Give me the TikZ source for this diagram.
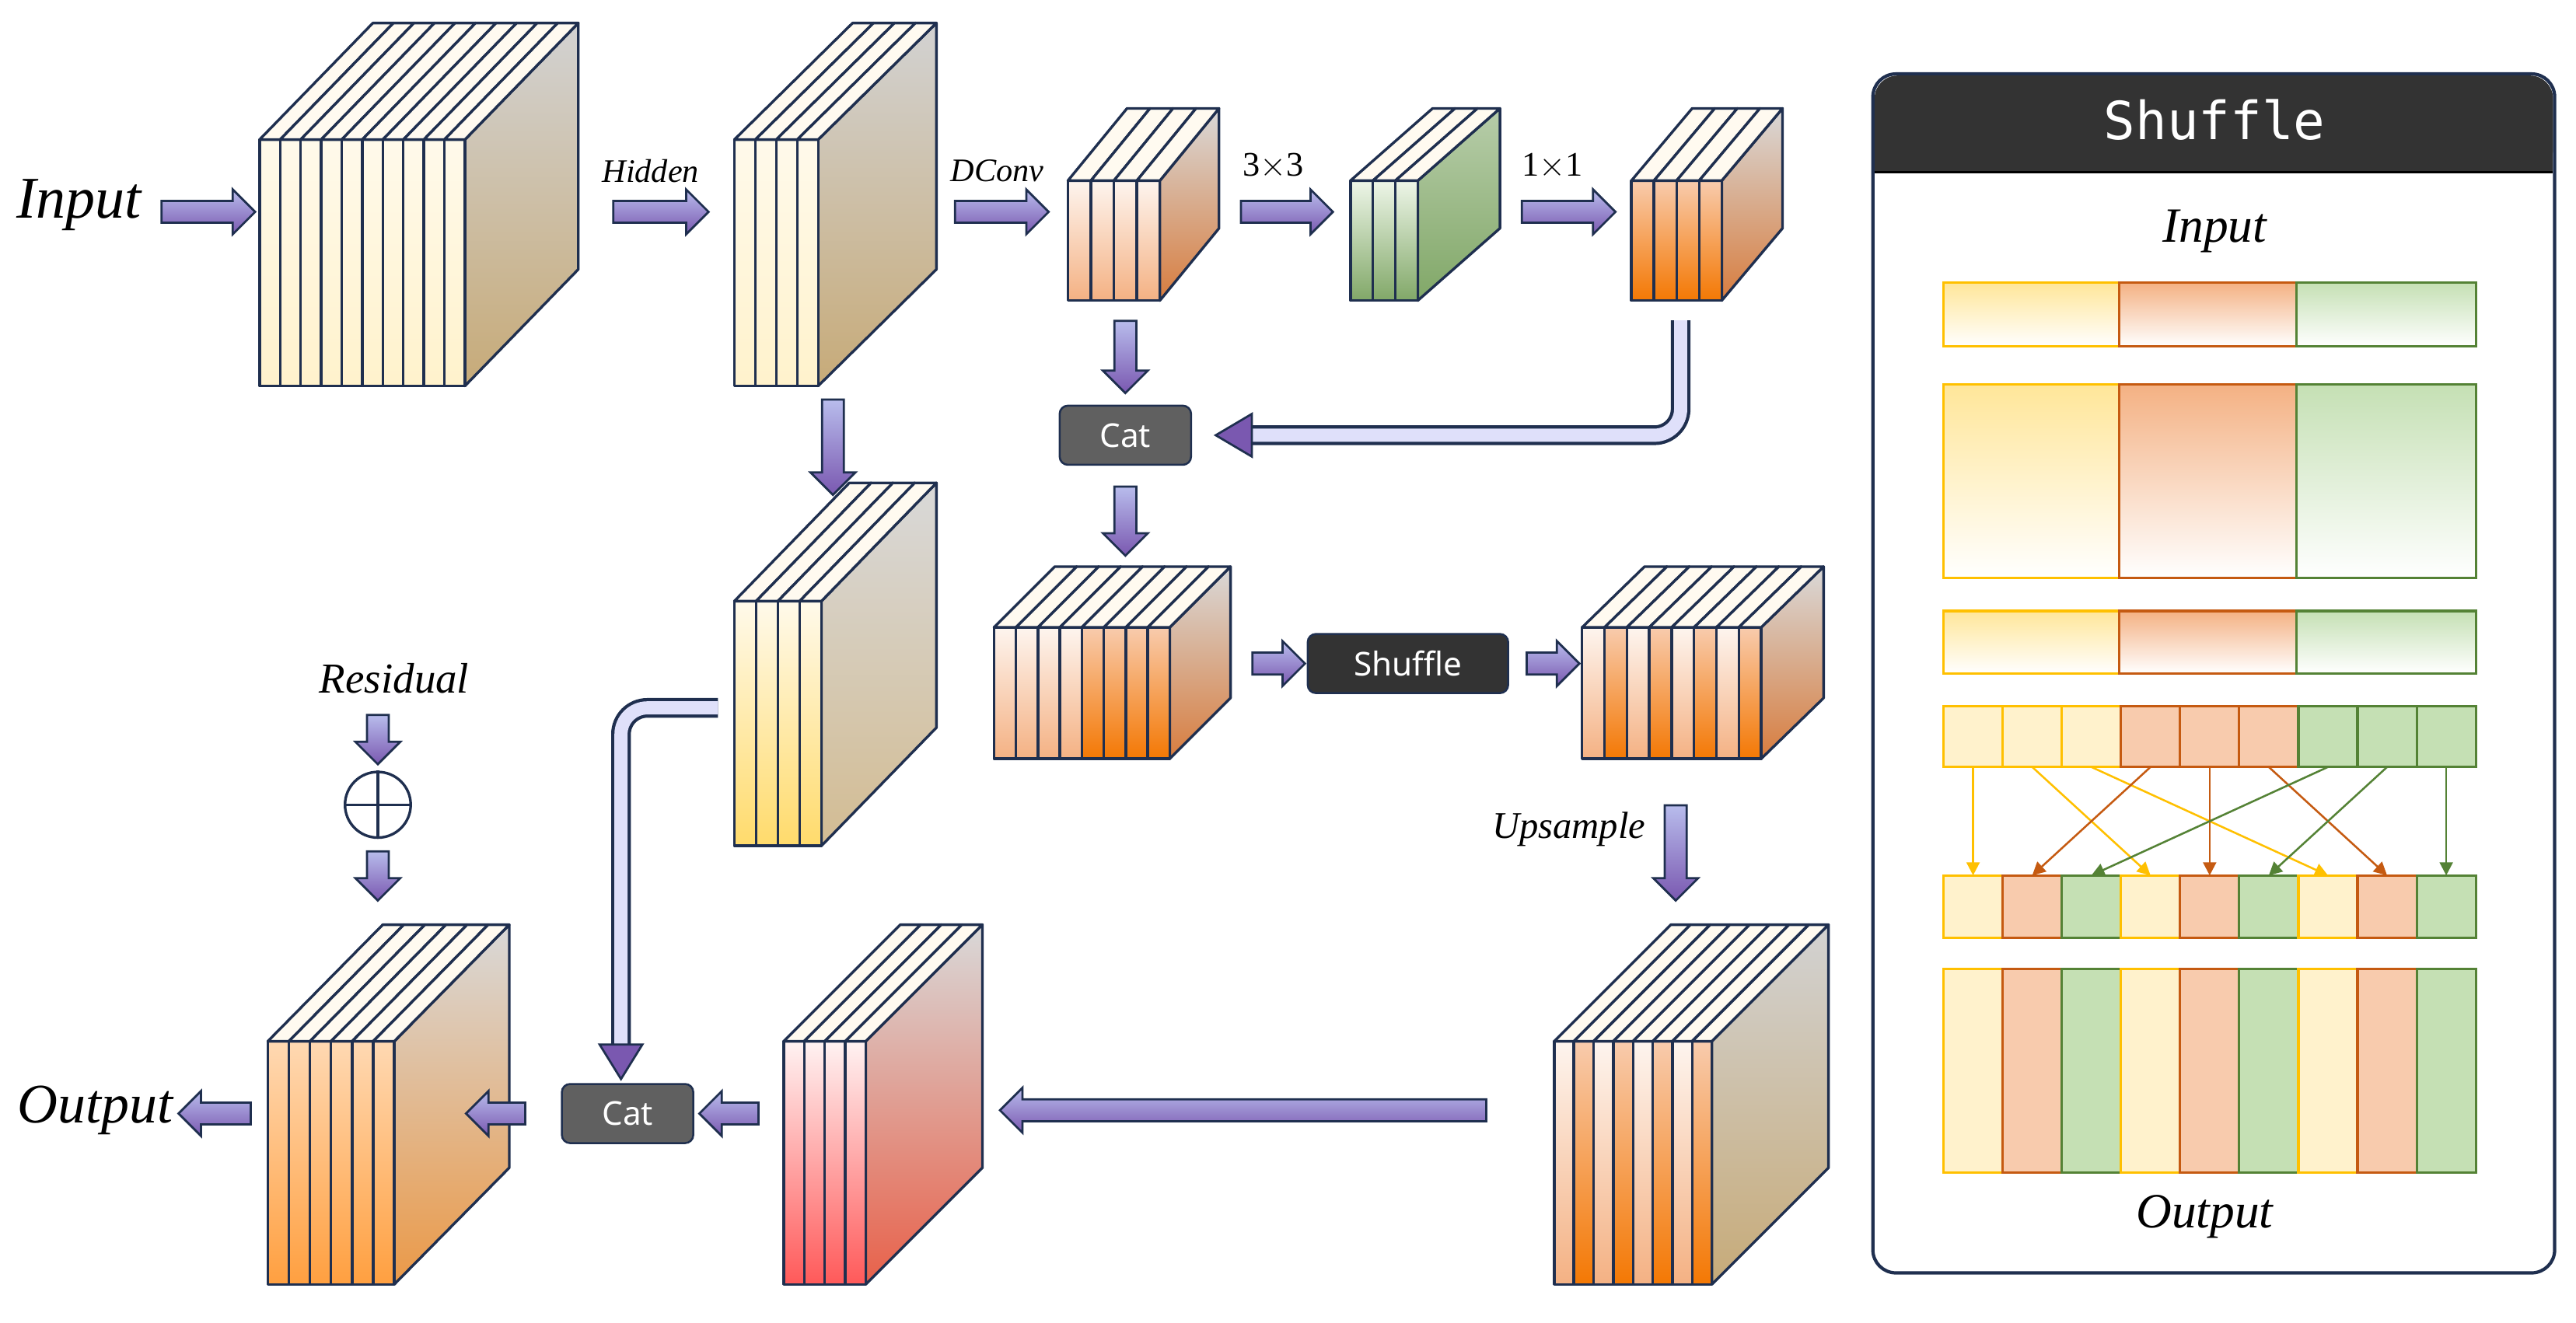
\documentclass[tikz,border=0pt]{standalone}
\usepackage{fontspec}
\setmainfont{Liberation Serif}
\newfontfamily\sansf{Noto Sans}
\newfontfamily\monof{DejaVu Sans Mono}
\usetikzlibrary{shapes.arrows,arrows.meta}
\definecolor{navy}{HTML}{1F2F4F}
\definecolor{arrA}{HTML}{B8BCEC}
\definecolor{arrB}{HTML}{7A58B0}
\definecolor{yB}{HTML}{FFC000}\definecolor{yF}{HTML}{FFE699}\definecolor{yS}{HTML}{FFF2CC}
\definecolor{oB}{HTML}{C55A11}\definecolor{oF}{HTML}{F4B183}\definecolor{oS}{HTML}{F8CBAD}
\definecolor{gB}{HTML}{548235}\definecolor{gF}{HTML}{C5E0B4}\definecolor{gS}{HTML}{C5E0B4}
\newcommand\mycube[9]{%
 \filldraw[edge,#9] (#1+#3,#2) -- ++(#5,-#6) -- ++(0,#4) -- ++(-#5,#6) -- cycle;
 \foreach \s [count=\i from 0] in {#8} {
   \pgfmathsetmacro\xa{#1+\i*#3/#7}
   \pgfmathsetmacro\sw{#3/#7}
   \draw[edge,\s] (\xa,#2) rectangle ++(\sw,#4);
   \draw[edge,fill=topc] (\xa,#2) -- ++(\sw,0) -- ++(#5,-#6) -- ++(-\sw,0) -- cycle;
 }}
\definecolor{topc}{HTML}{FFFAF0}
\tikzset{
 edge/.style={draw=navy,line width=1.6pt,line join=round},
 cream/.style={top color=white!60!yS,bottom color=yS},
 sideA/.style={top color=gray!35,bottom color=brown!40!yF!70!gray},
 pinkS/.style={top color=white!80!oS,bottom color=oF},
 orS/.style={top color=oS,bottom color=orange!80!oB},
 sideO/.style={top color=gray!30,bottom color=oB!60!oF},
 grS/.style={top color=white!70!gS,bottom color=gB!60!gS},
 sideG/.style={top color=gS!80!gray,bottom color=gB!60!gS},
 yeS/.style={top color=white!60!yS,bottom color=yF!70!yB},
 sideY/.style={top color=gray!30,bottom color=yB!40!brown!60!gray!60},
 reS/.style={top color=red!5,bottom color=red!65},
 sideR/.style={top color=gray!30,bottom color=red!55!brown!80},
 ouS/.style={top color=orange!30,bottom color=orange!75},
 sideU/.style={top color=gray!30,bottom color=orange!60!brown!80},
 barrow/.style={single arrow,draw=navy,line width=1.3pt,top color=arrA,bottom color=arrB,
   single arrow head extend=7pt,single arrow head indent=0pt,inner xsep=0pt,inner ysep=0pt,minimum height=#1},
 lab/.style={font=\itshape\fontsize{20}{20}\selectfont},
 box/.style={rounded corners=5pt,draw=navy,line width=1.2pt,text=white,font=\sansf\fontsize{20}{20}\selectfont,minimum height=36pt},
 pipeo/.style={draw=navy,line width=12pt,rounded corners=16pt},
 pipei/.style={line width=8pt,rounded corners=16pt},
}
\newcommand\shaft{\rule{0pt}{12pt}}
\begin{document}
\begin{tikzpicture}[x=1pt,y=-1pt]
\useasboundingbox (0,0) rectangle (1568,805.5);
% cubes
\mycube{158}{85}{125}{150}{69}{71}{10}{cream,cream,cream,cream,cream,cream,cream,cream,cream,cream}{sideA}
\mycube{447}{85}{51}{150}{72}{71}{4}{cream,cream,cream,cream}{sideA}
\mycube{650}{110}{56}{73}{36}{44}{4}{pinkS,pinkS,pinkS,pinkS}{sideO}
\mycube{822}{110}{41}{73}{50}{44}{3}{grS,grS,grS}{sideG}
\mycube{993}{110}{55}{73}{37}{44}{4}{orS,orS,orS,orS}{sideO}
\mycube{605}{382}{107}{80}{37}{37}{8}{pinkS,pinkS,pinkS,pinkS,orS,orS,orS,orS}{sideO}
\mycube{963}{382}{109}{80}{38}{37}{8}{pinkS,orS,pinkS,orS,pinkS,orS,pinkS,orS}{sideO}
\mycube{946}{634}{96}{148}{71}{71}{8}{pinkS,orS,pinkS,orS,pinkS,orS,pinkS,orS}{sideA}
\mycube{447}{366}{53}{149}{70}{72}{4}{yeS,yeS,yeS,yeS}{sideY}
\mycube{477}{634}{50}{148}{71}{71}{4}{reS,reS,reS,reS}{sideR}
\mycube{163}{634}{77}{148}{70}{71}{6}{ouS,ouS,ouS,ouS,ouS,ouS}{sideU}
% labels
\node[font=\itshape\fontsize{36}{36}\selectfont] (tin) at (48,125) {Input};
\node[lab] (thid) at (396,104) {Hidden};
\node[lab] (tdc) at (607,104) {DConv};
\node[font=\fontsize{21}{21}\selectfont] (t33) at (775,101) {3$\times$3};
\node[font=\fontsize{21}{21}\selectfont] (t11) at (945,101) {1$\times$1};
\node[font=\itshape\fontsize{26}{26}\selectfont] (tres) at (240,413) {Residual};
\node[font=\itshape\fontsize{23}{23}\selectfont] (tup) at (955,505) {Upsample};
\node[font=\itshape\fontsize{34}{34}\selectfont] (tout) at (58,676) {Output};
% block arrows
\node[barrow=57pt] (a1) at (123.5,129) {\shaft};
\node[barrow=58pt] (a2) at (399,129) {\shaft};
\node[barrow=57pt] (a3) at (606.5,129) {\shaft};
\node[barrow=56pt] (a4) at (780,129) {\shaft};
\node[barrow=57pt] (a5) at (951.5,129) {\shaft};
\node[barrow=44pt,rotate=-90] (a6) at (685,214) {\shaft};
\node[barrow=42pt,rotate=-90] (a7) at (685,314) {\shaft};
\node[barrow=58pt,rotate=-90] (a8) at (507,269) {\shaft};
\node[barrow=32pt] (a9) at (775,404) {\shaft};
\node[barrow=32pt] (a10) at (942,404) {\shaft};
\node[barrow=58pt,rotate=-90] (a11) at (1020,516) {\shaft};
\node[barrow=296pt,rotate=180] (a12) at (760,676) {\shaft};
\node[barrow=36pt,rotate=180] (a13) at (447,678) {\shaft};
\node[barrow=36pt,rotate=180] (a14) at (305,678) {\shaft};
\node[barrow=44pt,rotate=180] (a15) at (134,678) {\shaft};
\node[barrow=30pt,rotate=-90] (a16) at (230,447) {\shaft};
\node[barrow=30pt,rotate=-90] (a17) at (230,530) {\shaft};
\node[circle,draw=navy,line width=1.6pt,fill=white,minimum size=40pt,inner sep=0] (op) at (230,490) {};
\draw[navy,line width=1.6pt] (op.north)--(op.south) (op.west)--(op.east);
% boxes
\node[box,fill=gray!75!black,minimum width=80pt] (cat1) at (685,265) {Cat};
\node[box,fill=black!80,minimum width=122pt] (shuf) at (857,404) {Shuffle};
\node[box,fill=gray!75!black,minimum width=80pt] (cat2) at (382,678) {Cat};
% pipes
\coordinate (p1s) at (1023,195); \coordinate (p1e) at (762,265);
\draw[pipeo] (p1s) |- (p1e);
\draw[pipei,color=arrA!80!blue!30] (p1s) |- (p1e);
\fill[arrB,draw=navy,line width=1.3pt] (762,252)--(740,265)--(762,278)--cycle;
\coordinate (p2s) at (437,431); \coordinate (p2e) at (378,636);
\draw[pipeo] (p2s) -| (p2e);
\draw[pipei,color=arrA!80!blue!30] (p2s) -| (p2e);
\fill[arrB,draw=navy,line width=1.3pt] (365,636)--(378,657)--(391,636)--cycle;
% Shuffle panel
\draw[navy,line width=2pt,rounded corners=14pt,fill=white] (1140,45) rectangle (1555,775);
\fill[black!80,rounded corners=14pt] (1141,46) rectangle (1554,105);
\fill[black!80] (1141,80) rectangle (1554,105);
\draw[black,line width=1.5pt] (1141,105)--(1554,105);
\node[text=white,font=\monof\fontsize{32}{32}\selectfont] (ptitle) at (1348,73) {Shuffle};
\node[font=\itshape\fontsize{30}{30}\selectfont] (pin) at (1348,141) {Input};
\node[font=\itshape\fontsize{30}{30}\selectfont] (pout) at (1342,741) {Output};
\foreach \ya/\yb in {172/211,234/352,372/410}{
 \draw[yB,line width=1.5pt,top color=yF,bottom color=white] (1183,\ya) rectangle (1290,\yb);
 \draw[oB,line width=1.5pt,top color=oF,bottom color=white] (1290,\ya) rectangle (1398,\yb);
 \draw[gB,line width=1.5pt,top color=gF,middle color=gF,bottom color=white] (1398,\ya) rectangle (1507,\yb);
}
\foreach \i in {0,...,8}{
 \pgfmathtruncatemacro\g{int(\i/3)}
 \pgfmathsetmacro\xa{1183+36*\i}
 \ifcase\g \def\bc{yB}\def\fc{yS}\or \def\bc{oB}\def\fc{oS}\else \def\bc{gB}\def\fc{gS}\fi
 \draw[\bc,line width=1.5pt,fill=\fc] (\xa,430) rectangle ++(36,37);
 \pgfmathtruncatemacro\t{mod(\i,3)}
 \ifcase\t \def\bd{yB}\def\fd{yS}\or \def\bd{oB}\def\fd{oS}\else \def\bd{gB}\def\fd{gS}\fi
 \draw[\bd,line width=1.5pt,fill=\fd] (\xa,533) rectangle ++(36,38);
 \draw[\bd,line width=1.5pt,fill=\fd] (\xa,590) rectangle ++(36,124);
 \pgfmathtruncatemacro\k{mod(\i,3)*3+\g}
 \draw[\bc,line width=1.2pt,-{Triangle[length=8pt,width=8pt]}] (\xa+18,467) -- (1183+36*\k+18,533);
}
\end{tikzpicture}
\end{document}
